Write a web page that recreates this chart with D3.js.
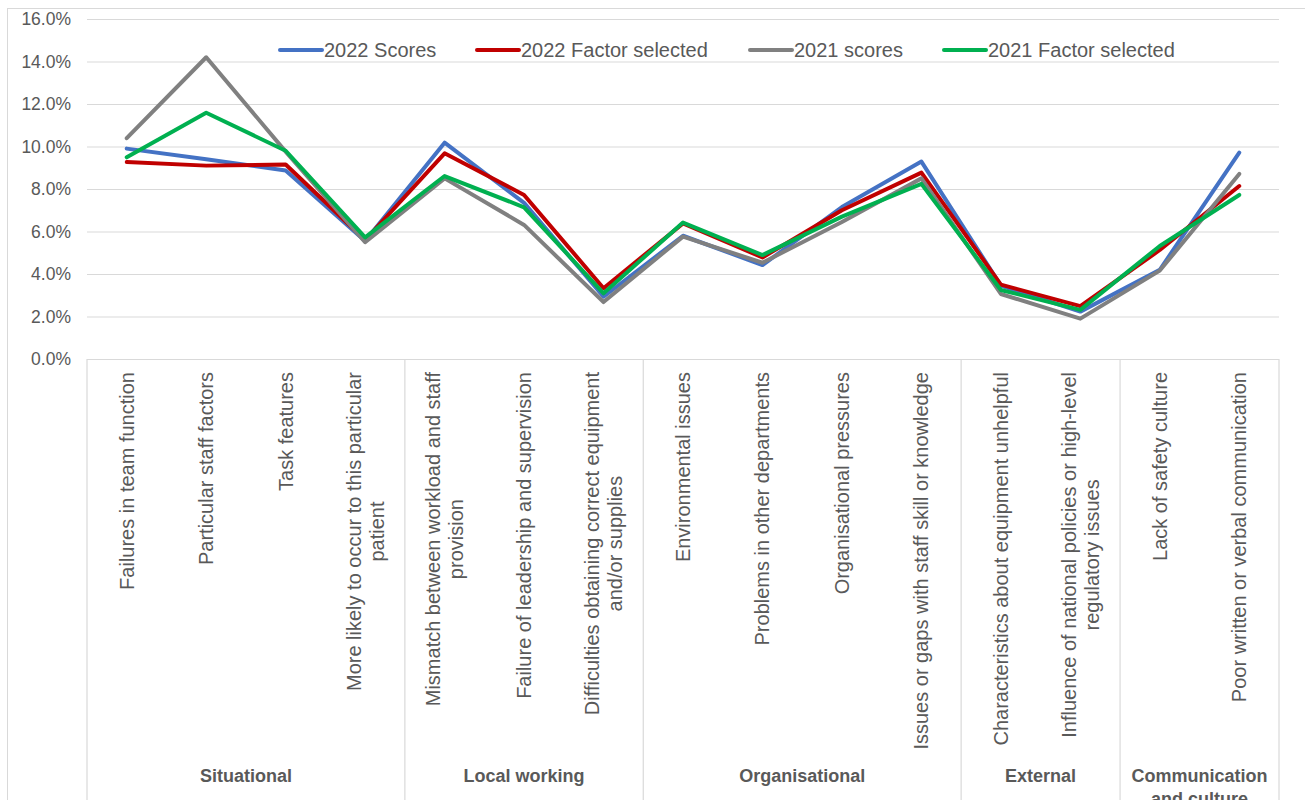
<!DOCTYPE html>
<html>
<head>
<meta charset="utf-8">
<script src="https://cdn.jsdelivr.net/npm/d3@7"></script>
<style>
  html, body { margin: 0; padding: 0; background: #fff; }
  svg { display: block; font-family: "Liberation Sans", Arial, sans-serif; }
</style>
</head>
<body>
<svg id="chart" width="1305" height="800"></svg>
<script>
// ---- Data ----
const categories = [
  "Failures in team function",
  "Particular staff factors",
  "Task features",
  "More likely to occur to this particular\npatient",
  "Mismatch between workload and staff\nprovision",
  "Failure of leadership and supervision",
  "Difficulties obtaining correct equipment\nand/or supplies",
  "Environmental issues",
  "Problems in other departments",
  "Organisational pressures",
  "Issues or gaps with staff skill or knowledge",
  "Characteristics about equipment unhelpful",
  "Influence of national policies or high-level\nregulatory issues",
  "Lack of safety culture",
  "Poor written or verbal communication"
];
const groups = ["Situational", "Local working", "Organisational", "External", "Communication\nand culture"];
const groupSizes = [4, 3, 4, 2, 2];

const seriesNames = ["2022 Scores", "2022 Factor selected", "2021 scores", "2021 Factor selected"];
const seriesColors = ["#4472C4", "#C00000", "#808080", "#00B050"];
const scores2022 = [9.90, 9.40, 8.87, 5.55, 10.18, 7.35, 2.93, 5.80, 4.42, 7.15, 9.29, 3.45, 2.23, 4.20, 9.71];
const factor2022 = [9.27, 9.10, 9.15, 5.60, 9.68, 7.72, 3.33, 6.38, 4.78, 7.00, 8.77, 3.50, 2.49, 5.13, 8.14];
const scores2021 = [10.39, 14.20, 9.76, 5.50, 8.50, 6.31, 2.68, 5.76, 4.53, 6.45, 8.50, 3.06, 1.90, 4.16, 8.71];
const factor2021 = [9.49, 11.59, 9.80, 5.72, 8.61, 7.14, 3.09, 6.42, 4.89, 6.70, 8.24, 3.25, 2.31, 5.32, 7.72];
const seriesValues = [scores2022, factor2022, scores2021, factor2021];
const yTicks = [0, 2, 4, 6, 8, 10, 12, 14, 16];

// ---- Layout ----
const svg = d3.select("#chart");
const plotLeft = 87, plotRight = 1279, plotTop = 19, plotBottom = 359;
const textColor = "#595959", gridColor = "#d9d9d9";

const x = d3.scalePoint().domain(d3.range(categories.length)).range([plotLeft, plotRight]).padding(0.5);
const step = x.step();
const y = d3.scaleLinear().domain([0, 16]).range([plotBottom, plotTop]);

// chart border
svg.append("rect").attr("x", 7.5).attr("y", 8.5).attr("width", 1400).attr("height", 900)
  .attr("fill", "none").attr("stroke", gridColor).attr("stroke-width", 1);

// gridlines + y axis labels
const yAxis = d3.axisLeft(y).tickValues(yTicks).tickSize(-(plotRight - plotLeft)).tickFormat(d => d.toFixed(1) + "%");
const yg = svg.append("g").attr("transform", `translate(${plotLeft},0)`).call(yAxis);
yg.select(".domain").remove();
yg.selectAll(".tick line").attr("stroke", gridColor).attr("stroke-width", 1.2);
yg.selectAll(".tick text").attr("x", -16).attr("fill", textColor)
  .attr("font-size", "17.5px").attr("font-family", '"Liberation Sans", Arial, sans-serif');

// group dividers
let idx = 0;
const boundaries = [0];
groupSizes.forEach(s => { idx += s; boundaries.push(idx); });
svg.append("g").selectAll("line").data(boundaries).join("line")
  .attr("x1", d => x(0) - step / 2 + d * step).attr("x2", d => x(0) - step / 2 + d * step)
  .attr("y1", plotBottom).attr("y2", 800)
  .attr("stroke", gridColor).attr("stroke-width", 1.2);

// category labels (rotated)
const catG = svg.append("g");
categories.forEach((c, i) => {
  const lines = c.split("\n");
  const g = catG.append("g").attr("transform", `translate(${x(i)},372) rotate(-90)`);
  const texts = lines.map((ln, j) => g.append("text")
    .attr("y", (j - (lines.length - 1) / 2) * 23)
    .attr("dy", "0.35em")
    .attr("font-size", "20px").attr("fill", textColor)
    .text(ln));
  const maxW = d3.max(texts, t => t.node().getComputedTextLength());
  texts.forEach(t => t.attr("x", -maxW / 2).attr("text-anchor", "middle"));
});

// group labels
groups.forEach((gname, gi) => {
  const cx = x(0) - step / 2 + (boundaries[gi] + boundaries[gi + 1]) / 2 * step;
  gname.split("\n").forEach((ln, j) => {
    svg.append("text").attr("x", cx).attr("y", 782 + j * 23)
      .attr("text-anchor", "middle").attr("font-size", "18px").attr("font-weight", "bold")
      .attr("fill", textColor).text(ln);
  });
});

// lines
const lineGen = d3.line().x((d, i) => x(i)).y(d => y(d));
seriesValues.forEach((vals, si) => {
  svg.append("path").datum(vals).attr("d", lineGen)
    .attr("fill", "none").attr("stroke", seriesColors[si]).attr("stroke-width", 4)
    .attr("stroke-linejoin", "round").attr("stroke-linecap", "round");
});

// legend
const legendX = [280, 477, 750, 944];
seriesNames.forEach((n, si) => {
  const lx = legendX[si];
  svg.append("line").attr("x1", lx).attr("x2", lx + 42).attr("y1", 50).attr("y2", 50)
    .attr("stroke", seriesColors[si]).attr("stroke-width", 4).attr("stroke-linecap", "round");
  svg.append("text").attr("x", lx + 44).attr("y", 50).attr("dy", "0.35em")
    .attr("font-size", "20px").attr("fill", textColor).text(n);
});
</script>
</body>
</html>
